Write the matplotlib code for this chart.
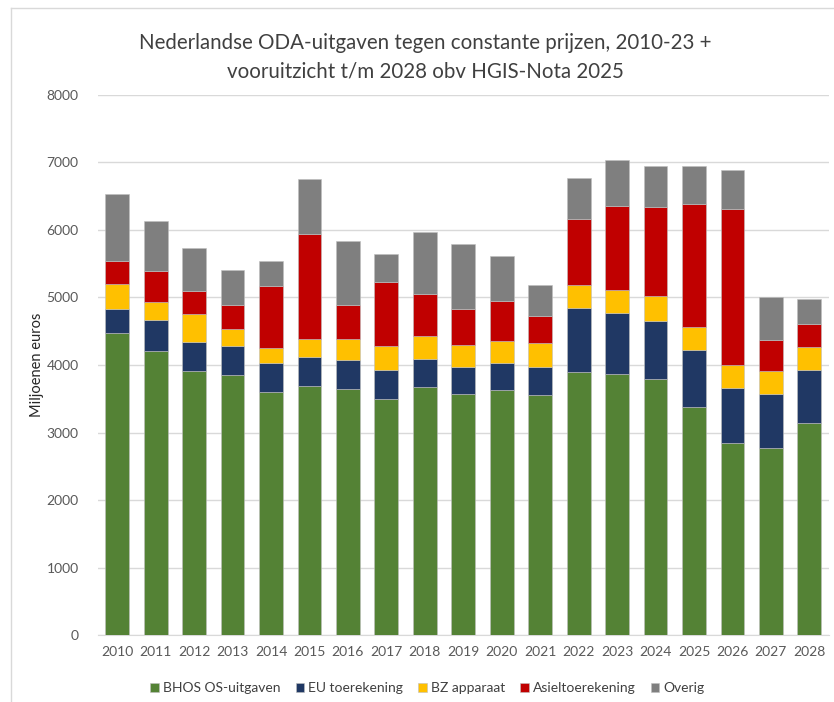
import numpy as np
import matplotlib.pyplot as plt
from matplotlib.lines import Line2D

# jaren en uitgaven (miljoenen euro, constante prijzen)
jaren = [str(j) for j in range(2010, 2029)]
bhos = [4470, 4210, 3905, 3845, 3595, 3690, 3645, 3500, 3675, 3570, 3630, 3560, 3895, 3870, 3795, 3380, 2840, 2770, 3145]
eu = [360, 450, 435, 435, 435, 435, 435, 425, 415, 405, 405, 415, 955, 895, 860, 840, 815, 805, 785]
bz = [370, 275, 415, 250, 220, 265, 305, 355, 345, 320, 325, 345, 330, 345, 370, 345, 345, 330, 330]
asiel = [345, 460, 345, 360, 920, 1545, 505, 945, 610, 540, 590, 400, 990, 1245, 1320, 1820, 2305, 470, 345]
overig = [985, 745, 640, 520, 365, 815, 950, 425, 930, 955, 665, 470, 605, 675, 605, 565, 585, 625, 375]

reeksen = [
    ("BHOS OS-uitgaven", bhos, "#548235"),
    ("EU toerekening", eu, "#203864"),
    ("BZ apparaat", bz, "#FFC000"),
    ("Asieltoerekening", asiel, "#C00000"),
    ("Overig", overig, "#7F7F7F"),
]

plt.rcParams['font.family'] = ['Lato', 'DejaVu Sans']

fig = plt.figure(figsize=(8.34, 7.02), dpi=100)
ax = fig.add_axes([0.1175, 0.0954, 0.876, 0.7693])

x = np.arange(len(jaren))
onder = np.zeros(len(jaren))
for naam, waarden, kleur in reeksen:
    ax.bar(x, waarden, width=0.62, bottom=onder, color=kleur, label=naam,
           edgecolor="#BFBFBF", linewidth=0.4, zorder=3)
    onder += np.array(waarden)

ax.set_ylim(0, 8000)
ax.set_xlim(-0.5, len(jaren) - 0.5)
ax.set_yticks(range(0, 8001, 1000))
ax.set_xticks(x)
ax.set_xticklabels(jaren)
ax.grid(axis="y", color="#D9D9D9", linewidth=1, zorder=0)
for s in ["top", "right", "left"]:
    ax.spines[s].set_visible(False)
ax.spines["bottom"].set_color("#D9D9D9")
ax.tick_params(axis="both", length=0, colors="#595959", labelsize=10)
ax.tick_params(axis="y", pad=14)
ax.tick_params(axis="x", pad=8)

ax.set_ylabel("Miljoenen euros", fontsize=10.5, color="#262626", labelpad=2)

fig.text(0.51, 0.918, "Nederlandse ODA-uitgaven tegen constante prijzen, 2010-23 +\nvooruitzicht t/m 2028 obv HGIS-Nota 2025",
         ha="center", va="center", fontsize=14.8, color="#404040", linespacing=1.55)

ax.legend(loc="upper center", bbox_to_anchor=(0.451, -0.064), ncol=5, frameon=False,
          fontsize=10, handlelength=0.6, handleheight=0.6, columnspacing=1.1,
          handletextpad=0.3, labelcolor="#404040")

# rand van de grafiek
fig.add_artist(Line2D([11 / 834, 1], [1 - 7.5 / 702, 1 - 7.5 / 702], color="#D9D9D9", linewidth=1))
fig.add_artist(Line2D([11 / 834, 11 / 834], [0, 1 - 7.5 / 702], color="#D9D9D9", linewidth=1))

plt.savefig("out.png", dpi=100)
